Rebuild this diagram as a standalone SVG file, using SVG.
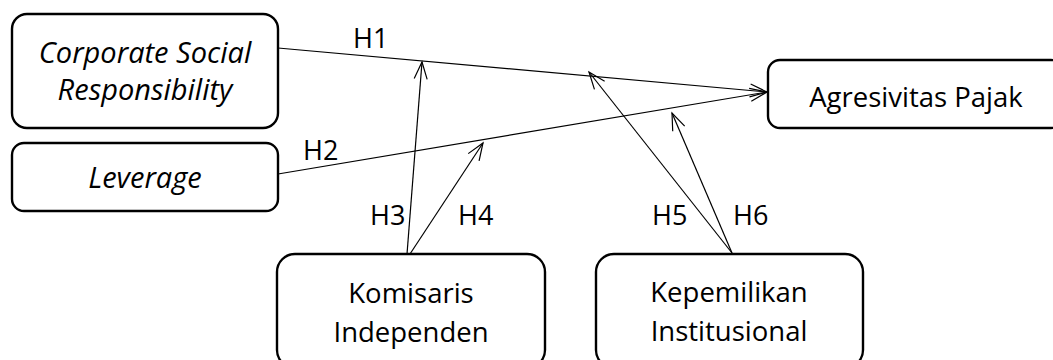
<svg xmlns="http://www.w3.org/2000/svg" width="1053" height="360" viewBox="0 0 1053 360">
<defs>
<style>
.box{fill:#fff;stroke:#000;stroke-width:2.4}
.t{font-family:"Open Sans","Liberation Sans",sans-serif;font-size:27.5px;fill:#000;text-anchor:middle}
.it{font-style:italic;font-size:29px}
.h{font-family:"Open Sans","Liberation Sans",sans-serif;font-size:27px;fill:#000}
.c{stroke:#000;stroke-width:1.2;fill:none;marker-end:url(#arr)}
</style>
<marker id="arr" markerUnits="userSpaceOnUse" markerWidth="24" markerHeight="24" viewBox="-20 -12 24 24" refX="0" refY="0" orient="auto">
<path d="M-17,-6.5 L0,0 L-17,6.5" fill="none" stroke="#000" stroke-width="1.2"/>
</marker>
</defs>
<rect width="1053" height="360" fill="#fff"/>
<g id="connectors">
<line class="c" x1="278" y1="48" x2="767" y2="92"/>
<line class="c" x1="278" y1="174" x2="767" y2="92"/>
<line class="c" x1="407" y1="254" x2="422" y2="62"/>
<line class="c" x1="410" y1="254" x2="483" y2="143"/>
<line class="c" x1="732" y1="253" x2="589" y2="72"/>
<line class="c" x1="732" y1="253" x2="672" y2="113"/>
</g>
<g id="labels">
<text class="h" x="353" y="48">H1</text>
<text class="h" x="303" y="160">H2</text>
<text class="h" x="370" y="225">H3</text>
<text class="h" x="458" y="225">H4</text>
<text class="h" x="652" y="225">H5</text>
<text class="h" x="733" y="225">H6</text>
</g>
<g id="csr">
<rect class="box" x="12" y="14" width="266" height="114" rx="15"/>
<text class="t it" x="145" y="63">Corporate Social</text>
<text class="t it" x="145" y="100">Responsibility</text>
</g>
<g id="leverage">
<rect class="box" x="12" y="143" width="266" height="68" rx="12"/>
<text class="t it" x="145" y="188">Leverage</text>
</g>
<g id="agresivitas">
<rect class="box" x="768" y="60" width="295" height="68" rx="12"/>
<text class="t" x="916" y="107">Agresivitas Pajak</text>
</g>
<g id="komisaris">
<rect class="box" x="277" y="254" width="268" height="114" rx="18"/>
<text class="t" x="411" y="303">Komisaris</text>
<text class="t" x="411" y="342">Independen</text>
</g>
<g id="kepemilikan">
<rect class="box" x="596" y="254" width="267" height="114" rx="18"/>
<text class="t" x="729" y="302">Kepemilikan</text>
<text class="t" x="729" y="341">Institusional</text>
</g>
</svg>
